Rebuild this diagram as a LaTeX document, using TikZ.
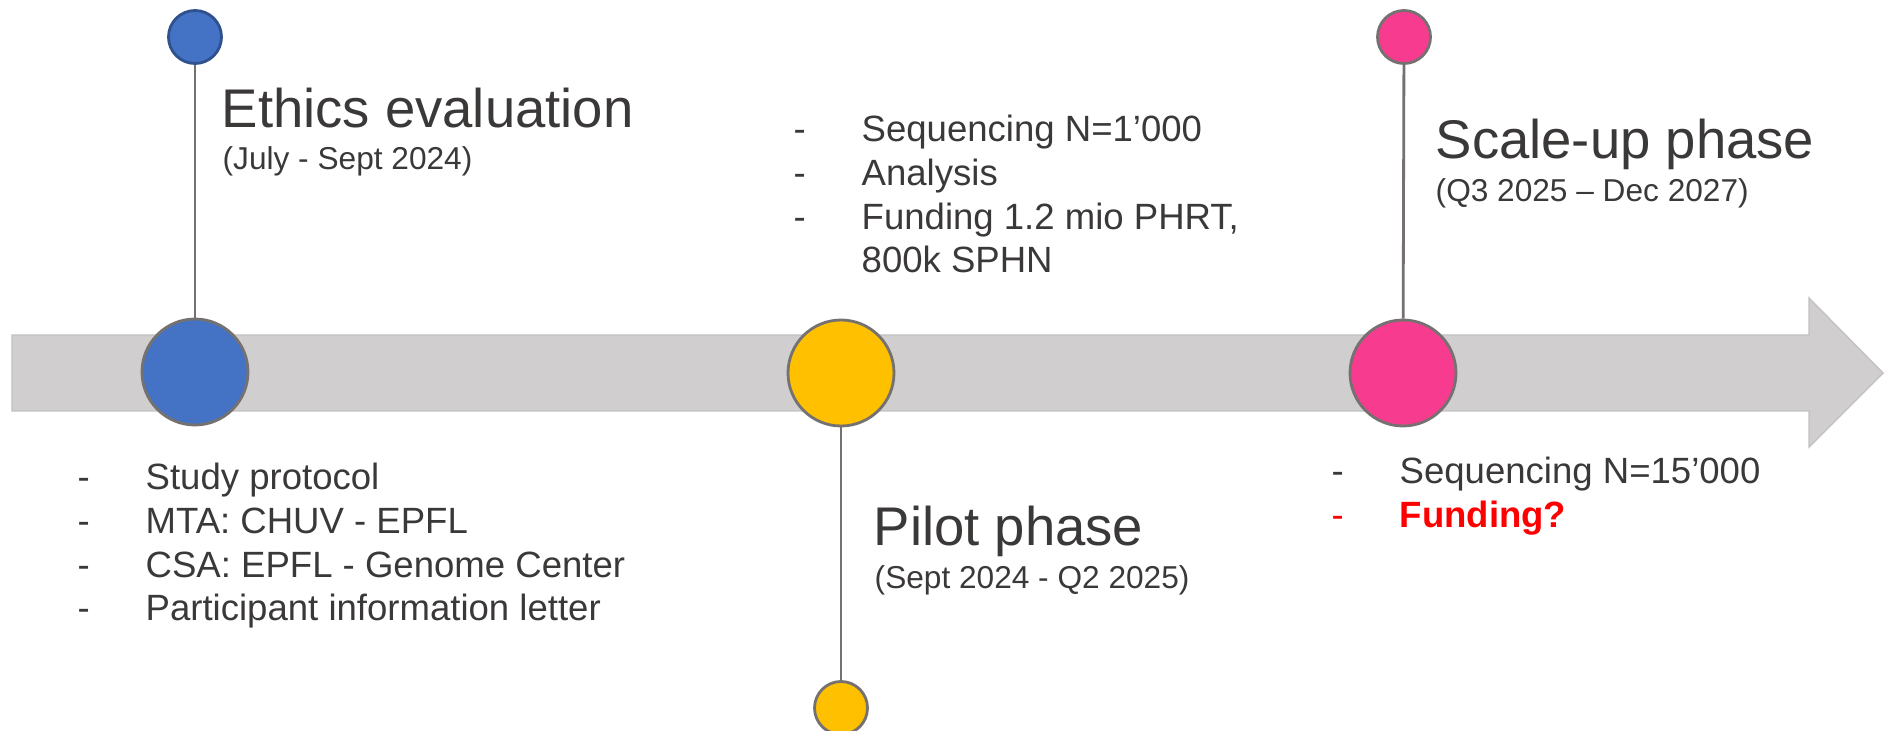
\documentclass[tikz,border=0pt]{standalone}
\usepackage{fontspec}
\setmainfont{Liberation Sans}
\usepackage{xcolor}
\usetikzlibrary{positioning}
\definecolor{band}{HTML}{D0CECE}
\definecolor{bandline}{HTML}{C3C1C1}
\definecolor{stemgray}{HTML}{767171}
\definecolor{txt}{HTML}{3B3838}
\definecolor{ethblue}{HTML}{4472C4}
\definecolor{ethblueline}{HTML}{2F528F}
\definecolor{pilotyellow}{HTML}{FFC000}
\definecolor{scalepink}{HTML}{F73C8F}
\newcommand{\titlefont}{\fontsize{15.5}{18.6}\selectfont}
\newcommand{\datefont}{\fontsize{9}{10.8}\selectfont}
\newcommand{\listfont}{\fontsize{10.4}{12.4}\selectfont}
\newcommand{\dashitem}{\makebox[0.68cm][l]{-}}

\begin{document}
\begin{tikzpicture}[
  bigdot/.style={circle, draw=stemgray, line width=0.8pt, minimum size=1.06cm, inner sep=0pt},
  smalldot/.style={circle, draw=stemgray, line width=0.8pt, minimum size=0.53cm, inner sep=0pt},
  stem/.style={draw=stemgray, line width=0.8pt},
  phase/.style={anchor=base west, inner sep=0pt, text=txt, font=\titlefont},
  dates/.style={anchor=base west, inner sep=0pt, text=txt, font=\datefont},
  todo/.style={anchor=base west, inner sep=0pt, text=txt, font=\listfont}
]
\useasboundingbox (0,0) rectangle (18.88,-7.31);
% time arrow
\fill[band, draw=bandline, line width=0.4pt] (0.12,-3.35) -- (18.09,-3.35) -- (18.09,-2.98)
  -- (18.83,-3.73) -- (18.09,-4.47) -- (18.09,-4.11) -- (0.12,-4.11) -- cycle;

% ethics
\node[bigdot, fill=ethblue] (ethbig) at (1.95,-3.72) {};
\node[smalldot, fill=ethblue, draw=ethblueline] (ethsmall) at (1.95,-0.37) {};
\draw[stem] (ethsmall) -- (ethbig);
\node[phase] (ethtitle) at (2.21,-1.28) {Ethics evaluation};
\node[dates] (ethdate) at (2.22,-1.70) {(July - Sept 2024)};
\node[todo] (ethlist) at (0.77,-4.90) {\begin{tabular}[t]{@{}l@{}}
\dashitem Study protocol\\
\dashitem MTA: CHUV - EPFL\\
\dashitem CSA: EPFL - Genome Center\\
\dashitem Participant information letter
\end{tabular}};

% pilot
\node[bigdot, fill=pilotyellow] (pilbig) at (8.41,-3.73) {};
\node[smalldot, fill=pilotyellow] (pilsmall) at (8.41,-7.08) {};
\draw[stem] (pilbig) -- (pilsmall);
\node[phase] (piltitle) at (8.73,-5.45) {Pilot phase};
\node[dates] (pildate) at (8.74,-5.88) {(Sept 2024 - Q2 2025)};
\node[todo] (pillist) at (7.93,-1.42) {\begin{tabular}[t]{@{}l@{}}
\dashitem Sequencing N=1’000\\
\dashitem Analysis\\
\dashitem Funding 1.2 mio PHRT,\\
\hspace*{0.68cm}800k SPHN
\end{tabular}};

% scale-up
\node[bigdot, fill=scalepink] (scabig) at (14.03,-3.73) {};
\node[smalldot, fill=scalepink] (scasmall) at (14.04,-0.37) {};
\draw[stem] (scasmall) -- (scabig);
\node[phase] (scatitle) at (14.35,-1.59) {Scale-up phase};
\node[dates] (scadate) at (14.35,-2.02) {(Q3 2025 – Dec 2027)};
\node[todo] (scalist) at (13.31,-4.84) {\begin{tabular}[t]{@{}l@{}}
\dashitem Sequencing N=15’000\\
{\color{red}\dashitem\textbf{Funding?}}
\end{tabular}};
\end{tikzpicture}
\end{document}
